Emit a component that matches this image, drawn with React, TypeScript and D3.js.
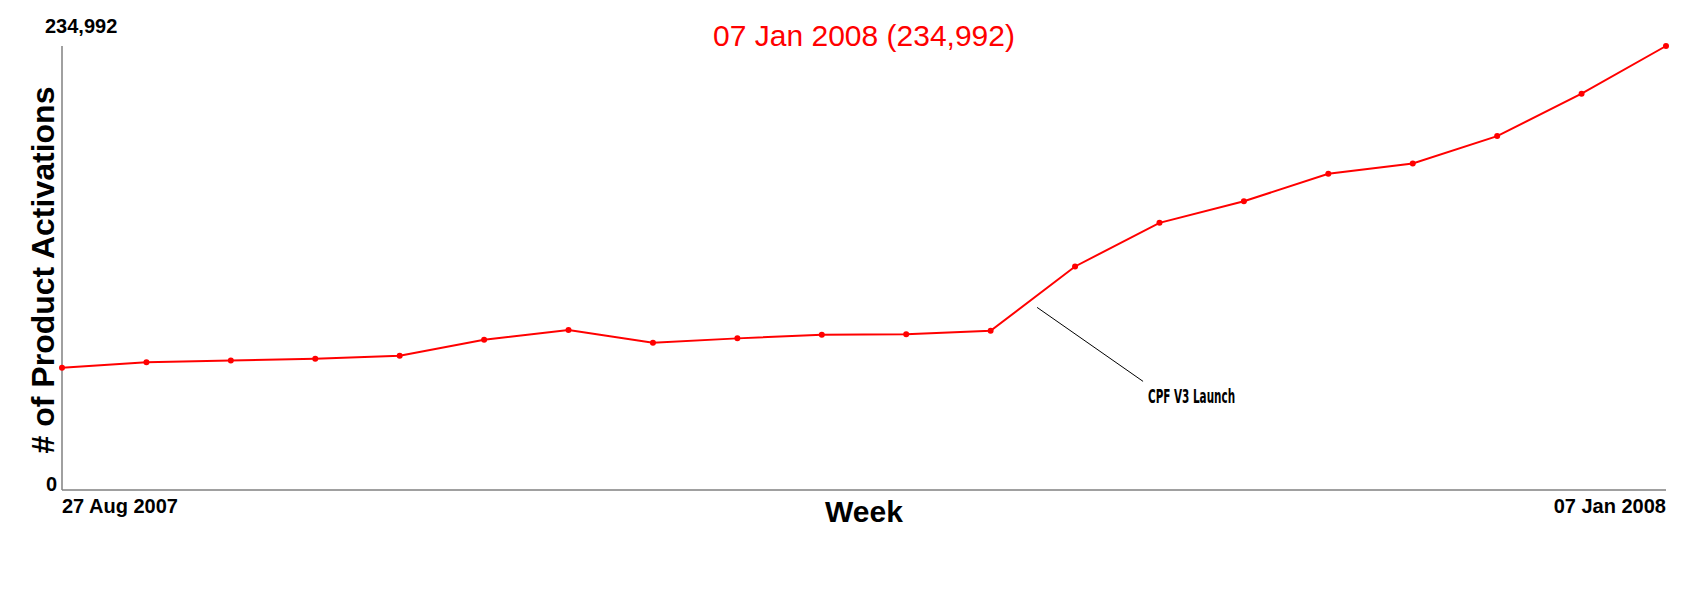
import React from "react";
import * as d3 from "d3";

const weeks: string[] = [
  "27 Aug 2007", "03 Sep 2007", "10 Sep 2007", "17 Sep 2007", "24 Sep 2007",
  "01 Oct 2007", "08 Oct 2007", "15 Oct 2007", "22 Oct 2007", "29 Oct 2007",
  "05 Nov 2007", "12 Nov 2007", "19 Nov 2007", "26 Nov 2007", "03 Dec 2007",
  "10 Dec 2007", "17 Dec 2007", "24 Dec 2007", "31 Dec 2007", "07 Jan 2008",
];
const activations: number[] = [
  64750, 67600, 68500, 69400, 71000,
  79500, 84700, 77950, 80250, 82200,
  82450, 84300, 118300, 141400, 152800,
  167400, 172850, 187300, 209760, 234992,
];
const yTickValues: number[] = [0, 234992];
const annotationText = "CPF V3 Launch";
const annotationIndex = 11; // launch occurred after this week

const W = 1700;
const H = 600;
const left = 62;
const right = 1666;
const top = 46;
const bottom = 490;

export default function App() {
  const x = d3.scalePoint<string>().domain(weeks).range([left, right]).padding(0);
  const y = d3.scaleLinear().domain([0, d3.max(activations) as number]).range([bottom, top]);
  const fmt = d3.format(",");
  const line = d3
    .line<number>()
    .x((_, i) => x(weeks[i]) as number)
    .y((d) => y(d));

  const lastIdx = activations.length - 1;
  const title = `${weeks[lastIdx]} (${fmt(activations[lastIdx])})`;

  const ax0 = x(weeks[annotationIndex]) as number;
  const ax1 = x(weeks[annotationIndex + 1]) as number;
  const ay0 = y(activations[annotationIndex]);
  const ay1 = y(activations[annotationIndex + 1]);
  const lx = ax0 + (ax1 - ax0) * 0.55;
  const ly = ay0 + (ay1 - ay0) * 0.55 + 12;

  const font = "'Liberation Sans', Arial, sans-serif";

  return (
    <div style={{ position: "absolute", left: 0, top: 0 }}>
      <svg width={W} height={H} style={{ display: "block", background: "#fff" }}>
        <rect x={0} y={0} width={W} height={H} fill="#fff" />
        <text x={(left + right) / 2} y={45.5} textAnchor="middle" fontFamily={font} fontSize={30} fill="#ff0000">
          {title}
        </text>
        <line x1={left} y1={y(yTickValues[1])} x2={left} y2={bottom} stroke="#808080" strokeWidth={1.5} />
        <line x1={left} y1={bottom} x2={right} y2={bottom} stroke="#808080" strokeWidth={1.5} />
        <text x={45} y={y(yTickValues[1]) - 13} fontFamily={font} fontSize={20} fontWeight="bold" fill="#000">
          {fmt(yTickValues[1])}
        </text>
        <text x={57} y={y(yTickValues[0]) + 0.5} textAnchor="end" fontFamily={font} fontSize={20} fontWeight="bold" fill="#000">
          {fmt(yTickValues[0])}
        </text>
        <text x={x(weeks[0]) as number} y={512.5} textAnchor="start" fontFamily={font} fontSize={20} fontWeight="bold" fill="#000">
          {weeks[0]}
        </text>
        <text x={x(weeks[lastIdx]) as number} y={512.5} textAnchor="end" fontFamily={font} fontSize={20} fontWeight="bold" fill="#000">
          {weeks[lastIdx]}
        </text>
        <text x={(left + right) / 2} y={521.5} textAnchor="middle" fontFamily={font} fontSize={30} fontWeight="bold" fill="#000">
          Week
        </text>
        <text
          transform={`translate(53.5, ${(top + bottom) / 2 + 2}) rotate(-90)`}
          textAnchor="middle"
          fontFamily={font}
          fontSize={32}
          fontWeight="bold"
          fill="#000"
        >
          # of Product Activations
        </text>
        <path d={line(activations) || ""} fill="none" stroke="#ff0000" strokeWidth={2} />
        {activations.map((v, i) => (
          <circle key={weeks[i]} cx={x(weeks[i]) as number} cy={y(v)} r={3} fill="#ff0000" />
        ))}
        <line x1={lx} y1={ly} x2={lx + 106} y2={ly + 74} stroke="#000" strokeWidth={1} />
        <text
          x={lx + 111}
          y={ly + 95.5}
          fontFamily="'DejaVu Sans Condensed', 'Liberation Sans Narrow', sans-serif"
          fontSize={19}
          fontWeight="bold"
          textLength={87}
          lengthAdjust="spacingAndGlyphs"
          fill="#000"
        >
          {annotationText}
        </text>
      </svg>
    </div>
  );
}
